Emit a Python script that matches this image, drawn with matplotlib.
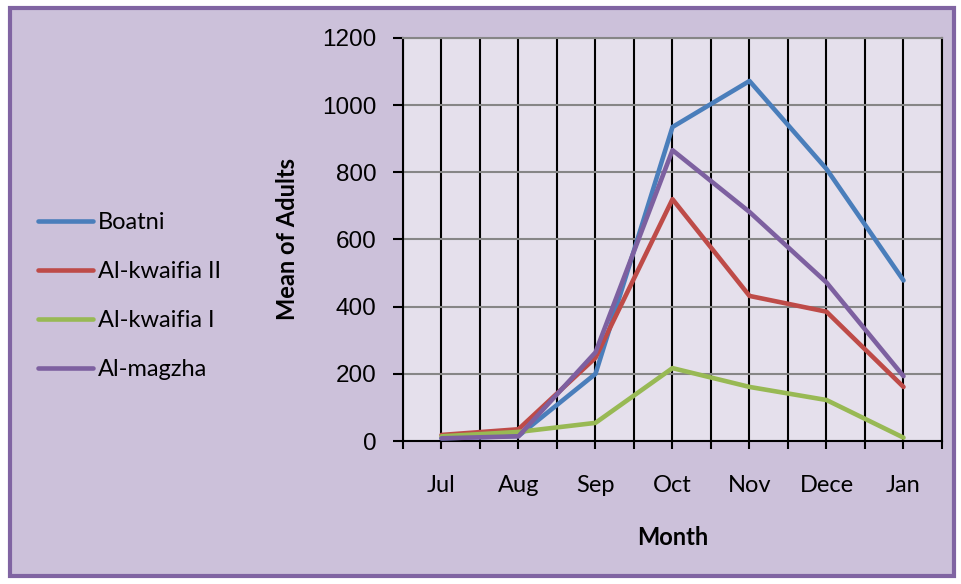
import matplotlib
matplotlib.use("Agg")
import matplotlib.pyplot as plt
from matplotlib.patches import Rectangle

plt.rcParams['font.family'] = ['Lato', 'DejaVu Sans']

months = ["Jul", "Aug", "Sep", "Oct", "Nov", "Dece", "Jan"]
boatni = [8, 15, 200, 935, 1072, 810, 478]
kwaifia_2 = [18, 35, 248, 720, 432, 385, 161]
kwaifia_1 = [14, 27, 54, 217, 161, 122, 10]
magzha = [8, 14, 264, 866, 682, 472, 193]

series = [("Boatni", boatni, "#4A7EBB"),
          ("Al-kwaifia II", kwaifia_2, "#BE4B48"),
          ("Al-kwaifia I", kwaifia_1, "#98B954"),
          ("Al-magzha", magzha, "#7D60A0")]

fig = plt.figure(figsize=(9.62, 5.84), dpi=100)
fig.patch.set_facecolor("white")

# chart-area background with purple border
fig.patches.append(Rectangle((10 / 962, 1 - 576 / 584), 944 / 962, 568 / 584,
                             transform=fig.transFigure, facecolor="#CCC1DA",
                             edgecolor="#8064A2", linewidth=3, zorder=-5))

ax = fig.add_axes([403 / 962, 1 - 441 / 584, 539 / 962, 403 / 584])
ax.set_facecolor("#E5E0EC")

x = list(range(len(months)))
for name, vals, col in series:
    ax.plot(x, vals, color=col, lw=3.3, label=name, solid_capstyle="round", zorder=3)

ax.set_xlim(-0.5, len(months) - 0.5)
ax.set_ylim(0, 1200)
ax.set_yticks(range(0, 1201, 200))
ax.set_xticks(x)
ax.set_xticklabels(months)
ax.set_xticks([i - 0.5 for i in range(len(months) + 1)], minor=True)

ax.grid(axis="y", color="#868686", lw=1.5, zorder=1)
ax.grid(axis="x", which="both", color="black", lw=1.5, zorder=1)
ax.tick_params(axis="x", which="both", length=5.8, width=1.5, direction="out", pad=18.5, labelsize=17)
ax.tick_params(axis="y", length=7, width=1.5, direction="out", pad=12, labelsize=17.5)
for lab in ax.get_yticklabels():
    lab.set_fontfamily("Liberation Sans")
for s in ["left", "bottom", "right"]:
    ax.spines[s].set_color("black")
    ax.spines[s].set_linewidth(1.5)
ax.spines["top"].set_color("#868686")
ax.spines["top"].set_linewidth(1.5)

ax.set_xlabel("Month", fontsize=17, fontweight="bold", labelpad=22)
ax.set_ylabel("Mean of Adults", fontsize=17, fontweight="bold", labelpad=17)

ax.legend(loc="center left", bbox_to_anchor=((26 - 403) / 539, (441 - 296) / 403),
          frameon=False, borderpad=0, fontsize=17, handlelength=2.33,
          handletextpad=0.2, labelspacing=1.19)

fig.savefig("out.png", dpi=100, facecolor=fig.get_facecolor())
